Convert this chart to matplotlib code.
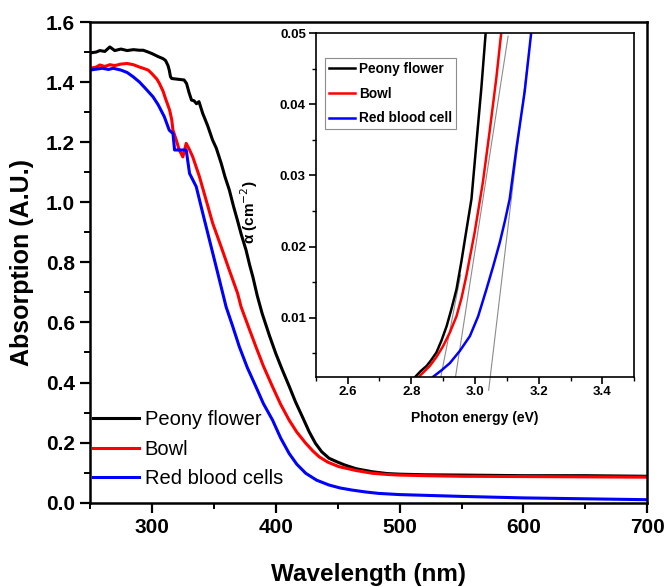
import matplotlib.pyplot as plt
from matplotlib.ticker import MultipleLocator, FormatStrFormatter

plt.rcParams['font.family'] = ['Liberation Sans', 'DejaVu Sans']

# --- UV-vis absorption spectra (main panel) ---
wl_peony = [250, 255, 258, 262, 266, 270, 275, 280, 285, 290, 293, 297, 300,
            305, 309, 311, 313, 314, 315, 316, 320, 326, 328, 330, 332, 334,
            336, 338, 341, 345, 349, 352, 356, 359, 362.5, 366, 369, 372, 376,
            379, 381.5, 385, 389, 395, 400, 405, 411, 416, 421.5, 427, 432,
            437, 443, 450, 456, 465, 478, 490, 500, 520, 550, 600, 650, 700]
abs_peony = [1.497, 1.500, 1.505, 1.502, 1.517, 1.505, 1.510, 1.505, 1.508,
             1.506, 1.506, 1.500, 1.495, 1.485, 1.478, 1.472, 1.455, 1.440,
             1.418, 1.412, 1.410, 1.407, 1.395, 1.365, 1.340, 1.338, 1.328,
             1.335, 1.296, 1.255, 1.207, 1.180, 1.129, 1.085, 1.041, 0.985,
             0.941, 0.895, 0.841, 0.790, 0.752, 0.690, 0.630, 0.555, 0.497,
             0.445, 0.386, 0.335, 0.286, 0.236, 0.198, 0.170, 0.148, 0.135,
             0.125, 0.113, 0.103, 0.097, 0.095, 0.093, 0.092, 0.090, 0.090,
             0.088]

wl_bowl = [250, 255, 258, 262, 266, 270, 275, 280, 285, 290, 293, 297, 300,
           304, 306, 309, 311, 313, 314.3, 316, 317, 319.7, 322, 325, 327.7,
           330, 333, 338.4, 343.8, 349.1, 355.9, 362.5, 369.2, 372, 378, 384,
           390, 397.4, 404, 410.8, 417, 424.2, 430, 435, 442, 451, 465, 478,
           490, 500, 520, 550, 600, 650, 700]
abs_bowl = [1.446, 1.450, 1.457, 1.452, 1.458, 1.455, 1.460, 1.462, 1.458,
            1.450, 1.446, 1.440, 1.428, 1.410, 1.396, 1.370, 1.345, 1.322,
            1.307, 1.275, 1.240, 1.207, 1.175, 1.151, 1.196, 1.178, 1.151,
            1.085, 1.007, 0.930, 0.852, 0.774, 0.697, 0.652, 0.585, 0.519,
            0.455, 0.386, 0.327, 0.275, 0.235, 0.198, 0.172, 0.153, 0.135,
            0.120, 0.107, 0.098, 0.094, 0.092, 0.090, 0.088, 0.087, 0.086,
            0.085]

wl_rbc = [250, 255, 260, 265, 268.7, 275, 280, 284.8, 290, 295, 300.9, 305,
          310, 314, 317, 318.3, 322, 327.7, 330.4, 335.8, 341.1, 346.5, 351.9,
          357.2, 359.9, 365, 370.6, 377, 384, 390, 397.4, 404, 410.8, 417,
          424.2, 433, 442.9, 452, 461.7, 472, 483, 500, 525, 550, 600, 650,
          700]
abs_rbc = [1.440, 1.443, 1.446, 1.442, 1.446, 1.440, 1.432, 1.418, 1.400,
           1.378, 1.351, 1.325, 1.285, 1.240, 1.229, 1.174, 1.174, 1.174,
           1.096, 1.052, 0.963, 0.874, 0.785, 0.697, 0.652, 0.590, 0.519,
           0.450, 0.386, 0.330, 0.275, 0.215, 0.164, 0.128, 0.098, 0.075,
           0.059, 0.049, 0.042, 0.036, 0.031, 0.027, 0.024, 0.021, 0.016,
           0.013, 0.010]

# --- absorption edge vs photon energy (inset) ---
e_peony = [2.813, 2.830, 2.848, 2.862, 2.879, 2.895, 2.911, 2.926, 2.942,
           2.957, 2.972, 2.989, 3.005, 3.020, 3.034]
a_peony = [0.0017, 0.0025, 0.0032, 0.0040, 0.0051, 0.0068, 0.0088, 0.0112,
           0.0140, 0.0178, 0.0220, 0.0267, 0.0348, 0.0423, 0.0503]

e_bowl = [2.824, 2.840, 2.858, 2.878, 2.900, 2.921, 2.942, 2.958, 2.973,
          2.999, 3.025, 3.046, 3.067, 3.083]
a_bowl = [0.0017, 0.0024, 0.0032, 0.0044, 0.0060, 0.0079, 0.0102, 0.0128,
          0.0159, 0.0220, 0.0291, 0.0362, 0.0437, 0.0503]

e_rbc = [2.869, 2.895, 2.921, 2.952, 2.984, 3.010, 3.036, 3.057, 3.078,
         3.094, 3.109, 3.130, 3.156, 3.177]
a_rbc = [0.0017, 0.0026, 0.0036, 0.0053, 0.0074, 0.0102, 0.0140, 0.0172,
         0.0206, 0.0236, 0.0267, 0.0338, 0.0418, 0.0503]

# linear extrapolations of the edges
fit_peony_e = [2.893, 2.955]
fit_peony_a = [0.0017, 0.0160]
fit_bowl_e = [2.939, 3.104]
fit_bowl_a = [0.0017, 0.0496]
fit_rbc_e = [3.043, 3.165]
fit_rbc_a = [-0.0002, 0.0460]

labels_main = ['Peony flower', 'Bowl', 'Red blood cells']
labels_inset = ['Peony flower', 'Bowl', 'Red blood cell']
colors = ['black', '#ff0000', '#0000ff']

fig = plt.figure(figsize=(6.65, 5.87), dpi=100)
ax = fig.add_axes([0.1353, 0.1436, 0.8381, 0.8189])

for wl, ab, c, lab in zip([wl_peony, wl_bowl, wl_rbc],
                          [abs_peony, abs_bowl, abs_rbc], colors, labels_main):
    ax.plot(wl, ab, color=c, lw=2.2, label=lab)

ax.set_xlim(250, 700)
ax.set_ylim(0, 1.6)
ax.xaxis.set_major_locator(MultipleLocator(100))
ax.xaxis.set_minor_locator(MultipleLocator(50))
ax.yaxis.set_major_locator(MultipleLocator(0.2))
ax.yaxis.set_minor_locator(MultipleLocator(0.1))
ax.yaxis.set_major_formatter(FormatStrFormatter('%.1f'))
ax.tick_params(which='major', direction='out', length=7, width=1.6,
               labelsize=15, pad=4)
ax.tick_params(which='minor', direction='out', length=4, width=1.4)
for lbl in ax.get_xticklabels() + ax.get_yticklabels():
    lbl.set_fontweight('bold')
for sp in ax.spines.values():
    sp.set_linewidth(1.8)

ax.set_xlabel('Wavelength (nm)', fontsize=17.5, fontweight='bold', labelpad=19)
ax.set_ylabel('Absorption (A.U.)', fontsize=18, fontweight='bold', labelpad=8)

ax.legend(loc='upper left', bbox_to_anchor=(92.5 / 665, 1 - 410 / 587),
          bbox_transform=fig.transFigure, frameon=False, fontsize=14.5,
          handlelength=2.3, handletextpad=0.3, labelspacing=0.53,
          borderpad=0, borderaxespad=0)

# inset
axi = fig.add_axes([0.4747, 0.3583, 0.4791, 0.585])
axi.set_facecolor('white')
for e, a in zip([fit_peony_e, fit_bowl_e, fit_rbc_e],
                [fit_peony_a, fit_bowl_a, fit_rbc_a]):
    axi.plot(e, a, color='#8c8c8c', lw=0.8, zorder=1, clip_on=False)
for e, a, c, lab in zip([e_peony, e_bowl, e_rbc], [a_peony, a_bowl, a_rbc],
                        colors, labels_inset):
    axi.plot(e, a, color=c, lw=1.8, label=lab, zorder=2)

axi.set_xlim(2.5, 3.5)
axi.set_ylim(0.0017, 0.05)
axi.xaxis.set_major_locator(MultipleLocator(0.2))
axi.xaxis.set_minor_locator(MultipleLocator(0.1))
axi.yaxis.set_major_locator(MultipleLocator(0.01))
axi.yaxis.set_minor_locator(MultipleLocator(0.005))
axi.xaxis.set_major_formatter(FormatStrFormatter('%.1f'))
axi.yaxis.set_major_formatter(FormatStrFormatter('%.2f'))
axi.tick_params(which='major', direction='out', length=5, width=1.2,
                labelsize=9.5, pad=2)
axi.tick_params(which='minor', direction='out', length=3, width=1.0)
for lbl in axi.get_xticklabels() + axi.get_yticklabels():
    lbl.set_fontweight('bold')
for sp in axi.spines.values():
    sp.set_linewidth(1.2)

axi.set_xlabel('Photon energy (eV)', fontsize=10, fontweight='bold',
               labelpad=9)
axi.set_ylabel('α (cm$^{-2}$)', fontsize=11, fontweight='bold')
axi.yaxis.set_label_coords(-0.175, 0.48)

leg = axi.legend(loc='upper left', bbox_to_anchor=(325 / 665, 1 - 58 / 587),
                 bbox_transform=fig.transFigure, frameon=True, fancybox=False,
                 edgecolor='#8c8c8c', framealpha=1,
                 prop={'size': 9.8, 'weight': 'bold'}, handlelength=1.9,
                 handletextpad=0.3, labelspacing=0.78, borderpad=0.3,
                 borderaxespad=0)
leg.get_frame().set_linewidth(0.8)

fig.savefig('out.png', dpi=100)
